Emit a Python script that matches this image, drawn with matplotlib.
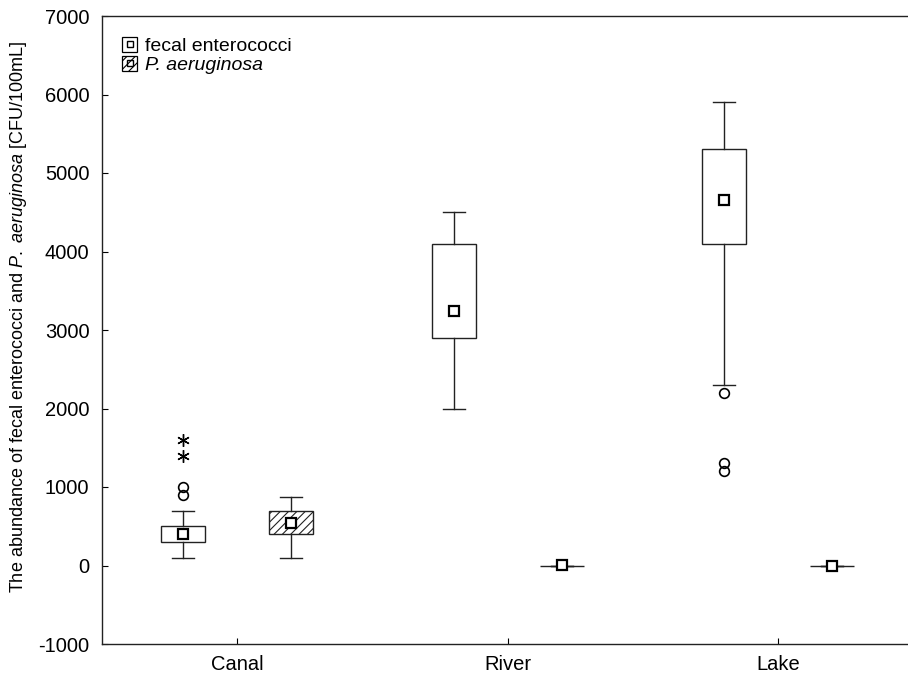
import matplotlib
matplotlib.use("Agg")
import matplotlib.pyplot as plt
from matplotlib.patches import Patch
from matplotlib.lines import Line2D

plt.rcParams['font.family'] = ['Liberation Sans', 'DejaVu Sans']
plt.rcParams['mathtext.fontset'] = 'custom'
plt.rcParams['mathtext.rm'] = 'Liberation Sans'
plt.rcParams['mathtext.it'] = 'Liberation Sans:italic'
plt.rcParams['hatch.linewidth'] = 0.8

sites = ["Canal", "River", "Lake"]
series = ["fecal enterococci", "P. aeruginosa"]

# fecal enterococci
fe_whislo = [100, 2000, 2300]
fe_q1 = [300, 2900, 4100]
fe_q3 = [500, 4100, 5300]
fe_whishi = [700, 4500, 5900]
fe_mean = [400, 3240, 4650]
fe_outliers = [[900, 1000], [], [2200, 1300, 1200]]
fe_extremes = [[1400, 1600], [], []]

# P. aeruginosa
pa_whislo = [100, 0, 0]
pa_q1 = [400, 0, 0]
pa_q3 = [700, 0, 0]
pa_whishi = [870, 0, 0]
pa_mean = [540, 10, 0]

yticks = [-1000, 0, 1000, 2000, 3000, 4000, 5000, 6000, 7000]

fig = plt.figure(figsize=(9.08, 6.75), dpi=100)
ax = fig.add_axes([102/908, 31/675, 811.5/908, 628/675])

def stats(wl, q1, q3, wh, mn, fl):
    return dict(whislo=wl, q1=q1, med=(q1+q3)/2, q3=q3, whishi=wh, mean=mn, fliers=fl)

fe_stats = [stats(fe_whislo[i], fe_q1[i], fe_q3[i], fe_whishi[i], fe_mean[i], fe_outliers[i]) for i in range(3)]
pa_stats = [stats(pa_whislo[i], pa_q1[i], pa_q3[i], pa_whishi[i], pa_mean[i], []) for i in range(3)]

off = 0.2
w = 0.163
common = dict(
    widths=w, patch_artist=True, showmeans=True,
    boxprops=dict(facecolor='white', edgecolor='#222222', linewidth=1.0),
    whiskerprops=dict(color='#222222', linewidth=1.0),
    capprops=dict(color='#222222', linewidth=1.0),
    medianprops=dict(linewidth=0),
    meanprops=dict(marker='s', markersize=7, markerfacecolor='white',
                   markeredgecolor='black', markeredgewidth=1.6),
    flierprops=dict(marker='o', markersize=7, markerfacecolor='none',
                    markeredgecolor='black', markeredgewidth=1.2),
    manage_ticks=False,
)
pos = [1, 2, 3]
b1 = ax.bxp(fe_stats, positions=[p - off for p in pos], **common)
b2 = ax.bxp(pa_stats, positions=[p + off for p in pos], **common)
for box in b2['boxes']:
    box.set_hatch('////')

for i, ex in enumerate(fe_extremes):
    if ex:
        ax.plot([pos[i] - off] * len(ex), ex, linestyle='none', marker=(6, 2, 0),
                markersize=9, color='black', markeredgewidth=1.0)

ax.set_xlim(0.5, 3.5)
ax.set_ylim(-1000, 7000)
ax.set_xticks(pos)
ax.set_xticklabels(sites, fontsize=14.5)
ax.set_yticks(yticks)
ax.set_yticklabels([str(t) for t in yticks], fontsize=14.5)
ax.tick_params(direction='in', length=4, width=0.8)
ax.tick_params(axis='y', pad=9)
ax.tick_params(axis='x', pad=8)
for s in ax.spines.values():
    s.set_linewidth(1.0)
    s.set_color('#222222')

ax.set_ylabel("The abundance of fecal enterococci and $\\mathit{P.\\ aeruginosa}$ [CFU/100mL]",
              fontsize=13)
ax.yaxis.set_label_coords(-0.09, 0.52)

h1 = (Patch(facecolor='white', edgecolor='black', linewidth=0.9),
      Line2D([], [], linestyle='none', marker='s', markersize=5, markerfacecolor='white',
             markeredgecolor='black', markeredgewidth=1.0))
h2 = (Patch(facecolor='white', edgecolor='black', linewidth=0.9, hatch='////'),
      Line2D([], [], linestyle='none', marker='s', markersize=5, markerfacecolor='none',
             markeredgecolor='black', markeredgewidth=1.0))
leg = ax.legend([h1, h2], [series[0], series[1]], loc='upper left',
                bbox_to_anchor=(0.01, 0.985), frameon=False, fontsize=14,
                handlelength=0.8, handleheight=0.8, handletextpad=0.4,
                labelspacing=0.05, borderaxespad=0.2)
leg.get_texts()[1].set_fontstyle('italic')

fig.savefig("out.png", dpi=100)
